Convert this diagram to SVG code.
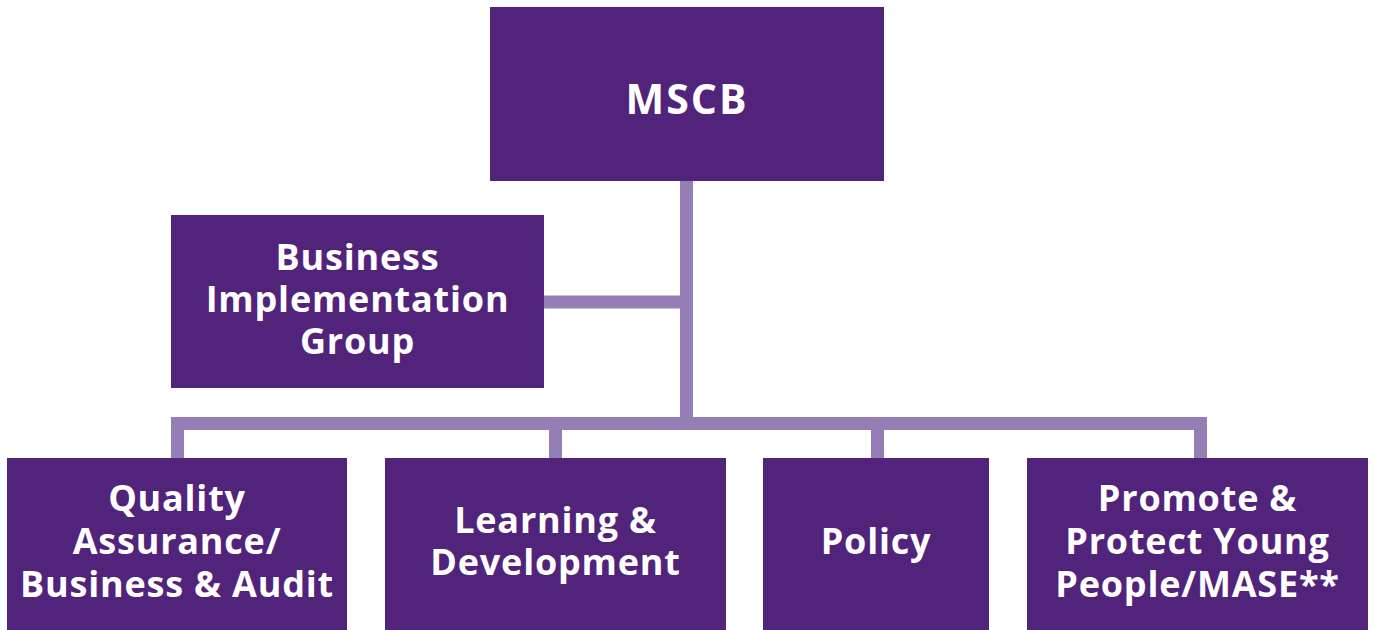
<svg xmlns="http://www.w3.org/2000/svg" width="1375" height="630" viewBox="0 0 1375 630">
<style>
.box{fill:#51237a}
.lbl{font-family:"Open Sans","Liberation Sans",sans-serif;font-weight:700;font-size:36px;fill:#ffffff;text-anchor:middle;letter-spacing:0.8px}
.big{font-size:41px;letter-spacing:2px}
.conn{stroke:#957db5;stroke-width:13;fill:none}
</style>
<rect width="1375" height="630" fill="#ffffff"/>
<g id="connectors">
<path class="conn" d="M686.5 181V424"/>
<path class="conn" d="M544 302H686.5"/>
<path class="conn" d="M177.5 458V423.5H1200.5V458"/>
<path class="conn" d="M555.5 423.5V458"/>
<path class="conn" d="M877.5 423.5V458"/>
</g>
<g id="mscb">
<rect class="box" x="490" y="7" width="394" height="174"/>
<text class="lbl big" x="687" y="114">MSCB</text>
</g>
<g id="big">
<rect class="box" x="171" y="215" width="373" height="173"/>
<text class="lbl" x="357.5" y="270">Business</text>
<text class="lbl" x="357.5" y="312">Implementation</text>
<text class="lbl" x="357.5" y="354">Group</text>
</g>
<g id="qa">
<rect class="box" x="7" y="458" width="340" height="172"/>
<text class="lbl" x="177" y="511">Quality</text>
<text class="lbl" x="177" y="554">Assurance/</text>
<text class="lbl" x="177" y="597">Business &amp; Audit</text>
</g>
<g id="ld">
<rect class="box" x="385" y="458" width="341" height="172"/>
<text class="lbl" x="555.5" y="533">Learning &amp;</text>
<text class="lbl" x="555.5" y="575">Development</text>
</g>
<g id="policy">
<rect class="box" x="763" y="458" width="226" height="172"/>
<text class="lbl" x="876" y="554">Policy</text>
</g>
<g id="ppyp">
<rect class="box" x="1027" y="458" width="341" height="172"/>
<text class="lbl" x="1197.5" y="511">Promote &amp;</text>
<text class="lbl" x="1197.5" y="554">Protect Young</text>
<text class="lbl" x="1197.5" y="597">People/MASE**</text>
</g>
</svg>
